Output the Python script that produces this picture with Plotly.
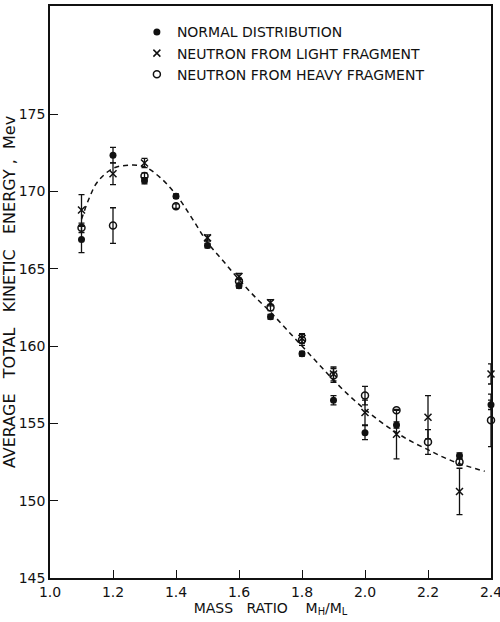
import plotly.graph_objects as go

# ---- data ----
x_normal = [1.1, 1.2, 1.3, 1.4, 1.5, 1.6, 1.7, 1.8, 1.9, 2.0, 2.1, 2.3, 2.4]
y_normal = [166.9, 172.35, 170.7, 169.7, 166.5, 163.9, 161.9, 159.5, 156.5, 154.4, 154.9, 152.9, 156.2]
e_normal = [0.85, 0.5, 0.2, 0.15, 0.15, 0.15, 0.15, 0.15, 0.3, 0.45, 0.2, 0.2, 0.3]

x_light = [1.1, 1.2, 1.3, 1.5, 1.6, 1.7, 1.8, 1.9, 2.0, 2.1, 2.2, 2.3, 2.4]
y_light = [168.8, 171.15, 171.85, 167.0, 164.5, 162.8, 160.5, 158.2, 155.7, 154.3, 155.4, 150.6, 158.2]
e_light = [1.0, 0.7, 0.3, 0.2, 0.2, 0.2, 0.3, 0.45, 0.8, 1.6, 1.4, 1.5, 0.65]

x_heavy = [1.1, 1.2, 1.3, 1.4, 1.6, 1.7, 1.8, 1.9, 2.0, 2.1, 2.2, 2.3, 2.4]
y_heavy = [167.65, 167.8, 171.0, 169.05, 164.2, 162.5, 160.4, 158.1, 156.8, 155.85, 153.8, 152.5, 155.2]
e_heavy = [0.3, 1.15, 0.2, 0.15, 0.2, 0.2, 0.35, 0.45, 0.6, 0.0, 0.8, 0.2, 1.7]

# dashed fitted curve
x_curve = [1.10, 1.125, 1.15, 1.20, 1.25, 1.30, 1.35, 1.40, 1.45, 1.50, 1.55, 1.60, 1.65, 1.70,
           1.75, 1.80, 1.85, 1.90, 1.95, 2.00, 2.05, 2.10, 2.15, 2.20, 2.25, 2.30, 2.38]
y_curve = [168.2, 169.6, 170.6, 171.5, 171.7, 171.6, 170.9, 169.8, 168.3, 166.7, 165.5, 164.3, 163.2, 162.2,
           161.1, 160.0, 158.9, 157.8, 156.8, 155.9, 155.1, 154.4, 153.8, 153.3, 152.8, 152.4, 151.9]

x_ticks = [1.0, 1.2, 1.4, 1.6, 1.8, 2.0, 2.2, 2.4]
x_tick_labels = ["1.0", "1.2", "1.4", "1.6", "1.8", "2.0", "2.2", "2.4"]
y_ticks = [145, 150, 155, 160, 165, 170, 175]

legend_names = ["NORMAL DISTRIBUTION", "NEUTRON FROM LIGHT FRAGMENT", "NEUTRON FROM HEAVY FRAGMENT"]

FONT = "DejaVu Sans"
INK = "#111111"
SP = "\u00a0"

fig = go.Figure()

fig.add_trace(go.Scatter(
    x=x_curve, y=y_curve, mode="lines", line=dict(color=INK, width=1.5, dash="5px,4px", shape="spline"),
    showlegend=False, hoverinfo="skip"))

def err(e):
    return dict(type="data", array=e, visible=True, color=INK, thickness=1.3, width=3)

fig.add_trace(go.Scatter(
    x=x_normal, y=y_normal, mode="markers", name=legend_names[0],
    marker=dict(symbol="circle", size=7, color=INK, line=dict(width=0)),
    error_y=err(e_normal), cliponaxis=False))

fig.add_trace(go.Scatter(
    x=x_light, y=y_light, mode="markers", name=legend_names[1],
    marker=dict(symbol="x-thin", size=7, color=INK, line=dict(width=1.5, color=INK)),
    error_y=err(e_light), cliponaxis=False))

fig.add_trace(go.Scatter(
    x=x_heavy, y=y_heavy, mode="markers", name=legend_names[2],
    marker=dict(symbol="circle-open", size=7, color=INK, line=dict(width=1.5, color=INK)),
    error_y=err(e_heavy), cliponaxis=False))

y_title = (SP * 3).join(["AVERAGE", "TOTAL", "KINETIC", "ENERGY"]) + SP + "," + SP * 2 + "Mev"
x_title = "MASS" + SP * 3 + "RATIO" + SP * 4 + "M<sub>H</sub>/M<sub>L</sub>"

fig.update_layout(
    width=500, height=622,
    margin=dict(l=50, r=9, t=6, b=44),
    paper_bgcolor="white", plot_bgcolor="white",
    font=dict(family=FONT, size=13, color=INK),
    legend=dict(x=0.197, y=0.982, xanchor="left", yanchor="top",
                font=dict(family=FONT, size=14, color=INK),
                bgcolor="rgba(0,0,0,0)", borderwidth=0, tracegroupgap=0),
    xaxis=dict(range=[1.0, 2.4], tickvals=x_ticks, ticktext=x_tick_labels,
               ticks="inside", ticklen=8, tickwidth=1.3, tickcolor=INK,
               showline=True, linecolor=INK, linewidth=1.5, mirror=True,
               showgrid=False, zeroline=False, ticklabeloverflow="allow", automargin=False,
               tickfont=dict(family=FONT, size=14, color=INK),
               title=dict(text=x_title, font=dict(family=FONT, size=14, color=INK), standoff=2)),
    yaxis=dict(range=[145, 182], tickvals=y_ticks,
               ticks="inside", ticklen=8, tickwidth=1.3, tickcolor=INK,
               showline=True, linecolor=INK, linewidth=1.5, mirror=True,
               showgrid=False, zeroline=False, automargin=False,
               tickfont=dict(family=FONT, size=14, color=INK),
               title=dict(text=y_title, font=dict(family=FONT, size=16, color=INK), standoff=4)),
)

fig.write_html("out.html")
